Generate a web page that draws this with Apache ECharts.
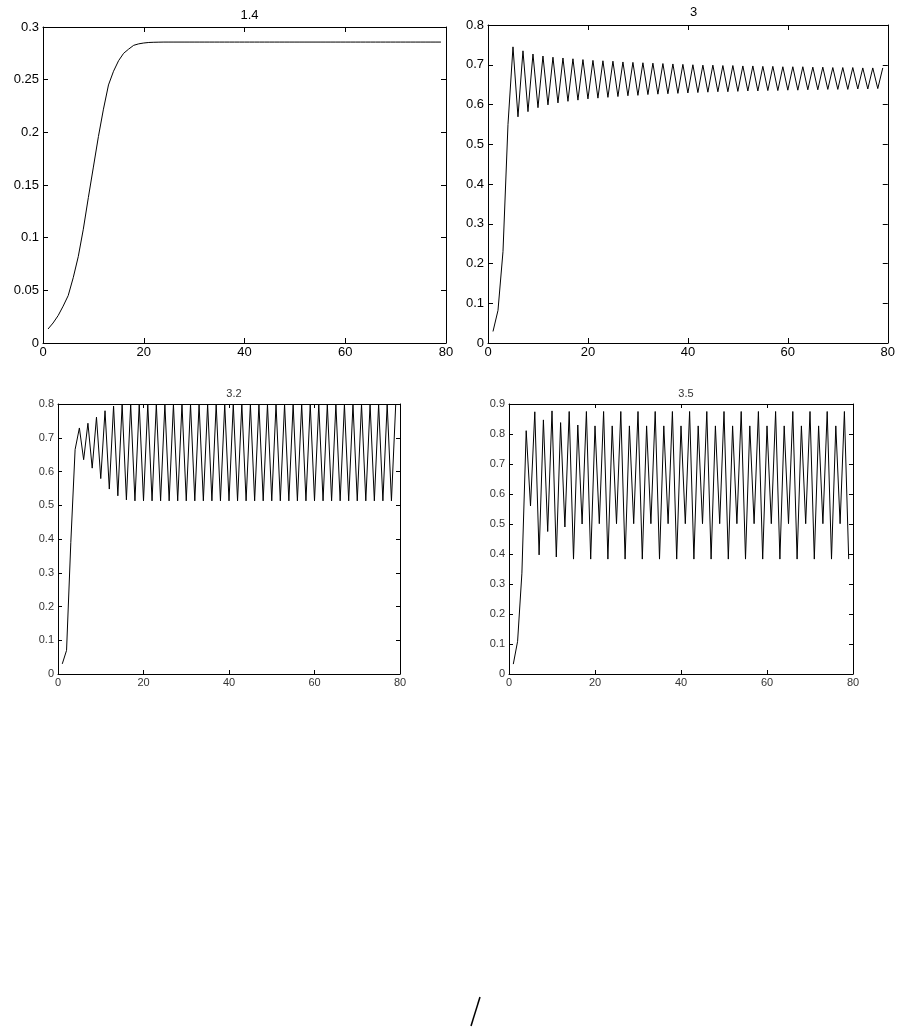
<!DOCTYPE html>
<html>
<head>
<meta charset="utf-8">
<script src="https://cdn.jsdelivr.net/npm/echarts@6/dist/echarts.min.js"></script>
<style>
html,body{margin:0;padding:0;background:#fff;}
#c{width:898px;height:1027px;}
</style>
</head>
<body>
<div id="c"></div>
<script>
// Subplot titles (parameter r)
var titles = ['1.4', '3', '3.2', '3.5'];
var xTicks = [0, 20, 40, 60, 80];

// r = 1.4  (x = 1..79)
var seriesR14 = [
  0.0133,0.019,0.026,0.035,0.045,0.062,0.082,0.108,0.138,0.167,0.196,0.222,0.245,0.258,0.268,0.275,
  0.279,0.2826,0.284,0.2848,0.2853,0.2855,0.2856,
  0.2857,0.2857,0.2857,0.2857,0.2857,0.2857,0.2857,0.2857,
  0.2857,0.2857,0.2857,0.2857,0.2857,0.2857,0.2857,0.2857,
  0.2857,0.2857,0.2857,0.2857,0.2857,0.2857,0.2857,0.2857,
  0.2857,0.2857,0.2857,0.2857,0.2857,0.2857,0.2857,0.2857,
  0.2857,0.2857,0.2857,0.2857,0.2857,0.2857,0.2857,0.2857,
  0.2857,0.2857,0.2857,0.2857,0.2857,0.2857,0.2857,0.2857,
  0.2857,0.2857,0.2857,0.2857,0.2857,0.2857,0.2857,0.2857
];

// r = 3  (x = 1..79)
var seriesR3 = [
  0.029,0.082,0.23,0.55,0.745,0.569,0.735,0.582,0.727,0.592,0.722,0.599,0.719,0.604,0.717,0.608,
  0.715,0.611,0.713,0.614,0.711,0.616,0.710,0.618,0.709,0.620,0.707,0.622,0.706,0.623,0.705,0.625,
  0.704,0.626,0.703,0.627,0.702,0.628,0.701,0.629,0.700,0.630,0.699,0.631,0.699,0.632,0.698,0.632,
  0.698,0.633,0.697,0.634,0.697,0.634,0.696,0.635,0.696,0.635,0.695,0.636,0.695,0.636,0.695,0.637,
  0.694,0.637,0.694,0.638,0.693,0.638,0.693,0.638,0.693,0.639,0.692,0.639,0.692,0.640,0.692
];

// r = 3.2  (x = 1..79)
var seriesR32 = [
  0.03,0.07,0.39,0.665,0.729,0.635,0.743,0.61,0.761,0.579,0.78,0.548,0.794,0.528,0.798,0.516,
  0.799,0.513,0.7995,0.513,0.7995,0.513,0.7995,0.513,0.7995,0.513,0.7995,0.513,0.7995,0.513,0.7995,0.513,
  0.7995,0.513,0.7995,0.513,0.7995,0.513,0.7995,0.513,0.7995,0.513,0.7995,0.513,0.7995,0.513,0.7995,0.513,
  0.7995,0.513,0.7995,0.513,0.7995,0.513,0.7995,0.513,0.7995,0.513,0.7995,0.513,0.7995,0.513,0.7995,0.513,
  0.7995,0.513,0.7995,0.513,0.7995,0.513,0.7995,0.513,0.7995,0.513,0.7995,0.513,0.7995,0.513,0.7995
];

// r = 3.5  (x = 1..79)
var seriesR35 = [
  0.033,0.109,0.336,0.811,0.56,0.874,0.397,0.847,0.475,0.877,0.39,0.838,0.49,0.875,0.383,0.830,
  0.50,0.875,0.383,0.827,0.501,0.875,0.383,0.827,0.501,0.875,0.383,0.827,0.501,0.875,0.383,0.827,
  0.501,0.875,0.383,0.827,0.501,0.875,0.383,0.827,0.501,0.875,0.383,0.827,0.501,0.875,0.383,0.827,
  0.501,0.875,0.383,0.827,0.501,0.875,0.383,0.827,0.501,0.875,0.383,0.827,0.501,0.875,0.383,0.827,
  0.501,0.875,0.383,0.827,0.501,0.875,0.383,0.827,0.501,0.875,0.383,0.827,0.501,0.875,0.383
];

var yMax = [0.3, 0.8, 0.8, 0.9];
var yStep = [0.05, 0.1, 0.1, 0.1];
var allSeries = [seriesR14, seriesR3, seriesR32, seriesR35];

var grids = [
  {left: 43, top: 27, width: 403, height: 316},
  {left: 488, top: 25, width: 401, height: 318},
  {left: 58, top: 404, width: 342, height: 270},
  {left: 509, top: 404, width: 344, height: 270}
];
var fontSizes = [13, 13, 11, 11];
var labelColors = ['#000', '#000', '#333', '#333'];
var tickLen = [5, 5, 4, 4];
var titleTops = [4, 1, 383, 383];
var FONT = '"Liberation Sans", Arial, sans-serif';

function fmt(v){ return String(+v.toFixed(2)); }

var xAxes = [], yAxes = [], series = [], titleArr = [];
for (var i = 0; i < 4; i++) {
  var axisLine = {show: true, onZero: false, lineStyle: {color: '#000', width: 1}};
  var tick = {show: true, inside: true, length: tickLen[i], lineStyle: {color: '#000', width: 1}};
  xAxes.push({
    type: 'value', gridIndex: i, position: 'bottom', min: xTicks[0], max: xTicks[xTicks.length-1], interval: 20,
    axisLine: axisLine, axisTick: tick, splitLine: {show: false},
    axisLabel: {fontSize: fontSizes[i], color: labelColors[i], fontFamily: FONT, margin: 3}
  });
  xAxes.push({
    type: 'value', gridIndex: i, position: 'top', min: xTicks[0], max: xTicks[xTicks.length-1], interval: 20,
    axisLine: axisLine, axisTick: tick, splitLine: {show: false}, axisLabel: {show: false}
  });
  yAxes.push({
    type: 'value', gridIndex: i, position: 'left', min: 0, max: yMax[i], interval: yStep[i],
    axisLine: axisLine, axisTick: tick, splitLine: {show: false},
    axisLabel: {fontSize: fontSizes[i], color: labelColors[i], fontFamily: FONT, margin: 4, formatter: fmt}
  });
  yAxes.push({
    type: 'value', gridIndex: i, position: 'right', min: 0, max: yMax[i], interval: yStep[i],
    axisLine: axisLine, axisTick: tick, splitLine: {show: false}, axisLabel: {show: false}
  });
  series.push({
    type: 'line', xAxisIndex: i * 2, yAxisIndex: i * 2, showSymbol: false, symbol: 'none',
    lineStyle: {color: '#000', width: 1}, silent: true, animation: false,
    data: allSeries[i].map(function (v, k) { return [k + 1, v]; })
  });
  titleArr.push({
    text: titles[i], left: grids[i].left + grids[i].width / 2, top: titleTops[i], textAlign: 'center',
    textStyle: {fontSize: fontSizes[i], fontWeight: 'normal', color: labelColors[i], fontFamily: FONT}
  });
}

var chart = echarts.init(document.getElementById('c'), null, {renderer: 'canvas'});
chart.setOption({
  backgroundColor: '#fff',
  animation: false,
  title: titleArr,
  grid: grids,
  xAxis: xAxes,
  yAxis: yAxes,
  series: series,
  graphic: [{
    type: 'line', shape: {x1: 480, y1: 997, x2: 471, y2: 1026},
    style: {stroke: '#000', lineWidth: 1.5}
  }]
});
</script>
</body>
</html>
